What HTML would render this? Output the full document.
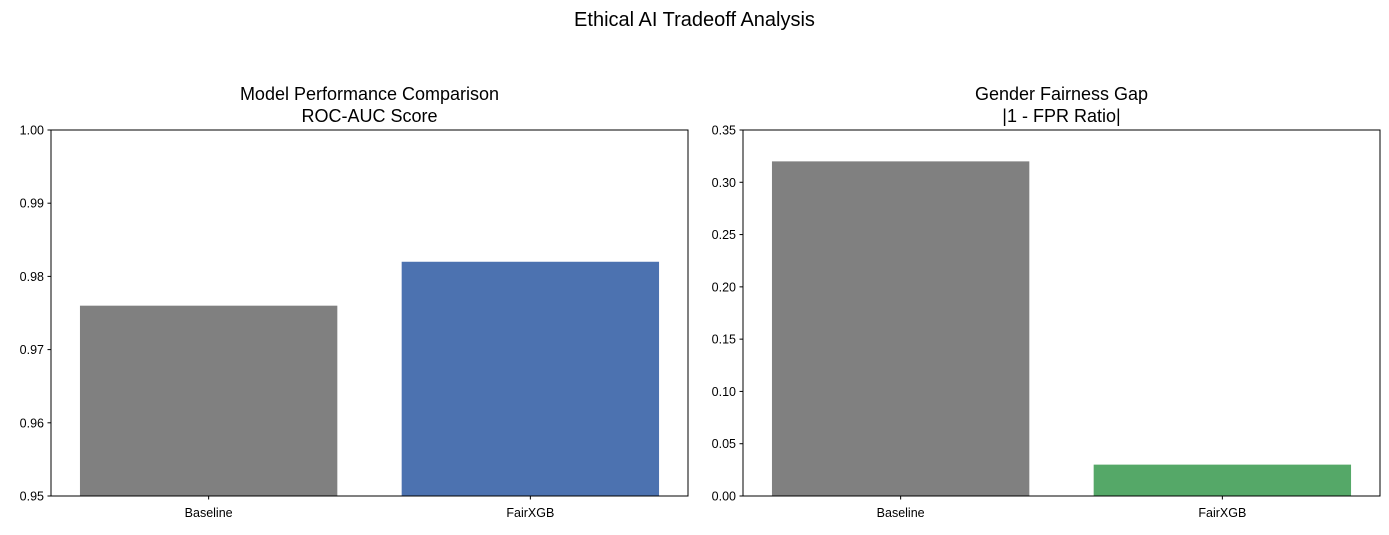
<!DOCTYPE html>
<html><head><meta charset="utf-8">
<style>
body{margin:0;background:#fff;font-family:"Liberation Sans",sans-serif;}
svg text{font-family:"Liberation Sans","DejaVu Sans",sans-serif;}
</style></head>
<body>
<svg id="chart" width="1389" height="530" xmlns="http://www.w3.org/2000/svg">
<text x="694.5" y="26" font-size="20" text-anchor="middle" fill="#000">Ethical AI Tradeoff Analysis</text>
</svg>
<script>
const categories = ["Baseline", "FairXGB"];
const aucValues = [0.976, 0.982];
const gapValues = [0.32, 0.03];
const aucTicks = [0.95, 0.96, 0.97, 0.98, 0.99, 1.00];
const gapTicks = [0, 0.05, 0.10, 0.15, 0.20, 0.25, 0.30, 0.35];

const svg = document.getElementById('chart');
const NS = 'http://www.w3.org/2000/svg';
function mk(tag, attrs, parent){
  const e = document.createElementNS(NS, tag);
  for (const k in attrs) e.setAttribute(k, attrs[k]);
  (parent||svg).appendChild(e);
  return e;
}
function panel(prefix, x0, x1, y0, y1, ymin, ymax, ticks, dec, values, colors, title1, title2){
  const g = mk('g', {});
  
  
  const yS = v => y1 - (v - ymin) / (ymax - ymin) * (y1 - y0);
  const lo = -0.49, hi = categories.length - 1 + 0.49;
  const unit = (x1 - x0) / (hi - lo);
  const xS = i => x0 + (i - lo) * unit;
  values.forEach((v, i) => {
    const top = yS(v);
    const r = mk('rect', {x: xS(i) - 0.4*unit, y: top, width: 0.8*unit, height: y1 - top, fill: colors[i]}, g);
    
    
  });
  mk('rect', {x: x0, y: y0, width: x1 - x0, height: y1 - y0, fill: 'none', stroke: '#000', 'stroke-width': 1}, g);
  ticks.forEach(t => {
    const y = yS(t);
    mk('line', {x1: x0 - 3.5, x2: x0, y1: y, y2: y, stroke: '#000'}, g);
    const tx = mk('text', {x: x0 - 7, y: y + 4.5, 'font-size': 12.5, 'text-anchor': 'end'}, g);
    tx.textContent = t.toFixed(dec);
    
    
  });
  categories.forEach((c, i) => {
    const x = xS(i);
    mk('line', {x1: x, x2: x, y1: y1, y2: y1 + 3.5, stroke: '#000'}, g);
    const tx = mk('text', {x: x, y: y1 + 21, 'font-size': 12.5, 'text-anchor': 'middle'}, g);
    tx.textContent = c;
    
    
  });
  const cx = (x0 + x1) / 2;
  const t1 = mk('text', {x: cx, y: 100, 'font-size': 18, 'text-anchor': 'middle'}, g);
  t1.textContent = title1;
  
  
  const t2 = mk('text', {x: cx, y: 122, 'font-size': 18, 'text-anchor': 'middle'}, g);
  t2.textContent = title2;
  
  
}
panel('auc', 51, 688, 130, 496, 0.95, 1.00, aucTicks, 2, aucValues, ['#808080', '#4c72b0'], 'Model Performance Comparison', 'ROC-AUC Score');
panel('gap', 743, 1380, 130, 496, 0, 0.35, gapTicks, 2, gapValues, ['#808080', '#55a868'], 'Gender Fairness Gap', '|1 - FPR Ratio|');
</script>
</body></html>
